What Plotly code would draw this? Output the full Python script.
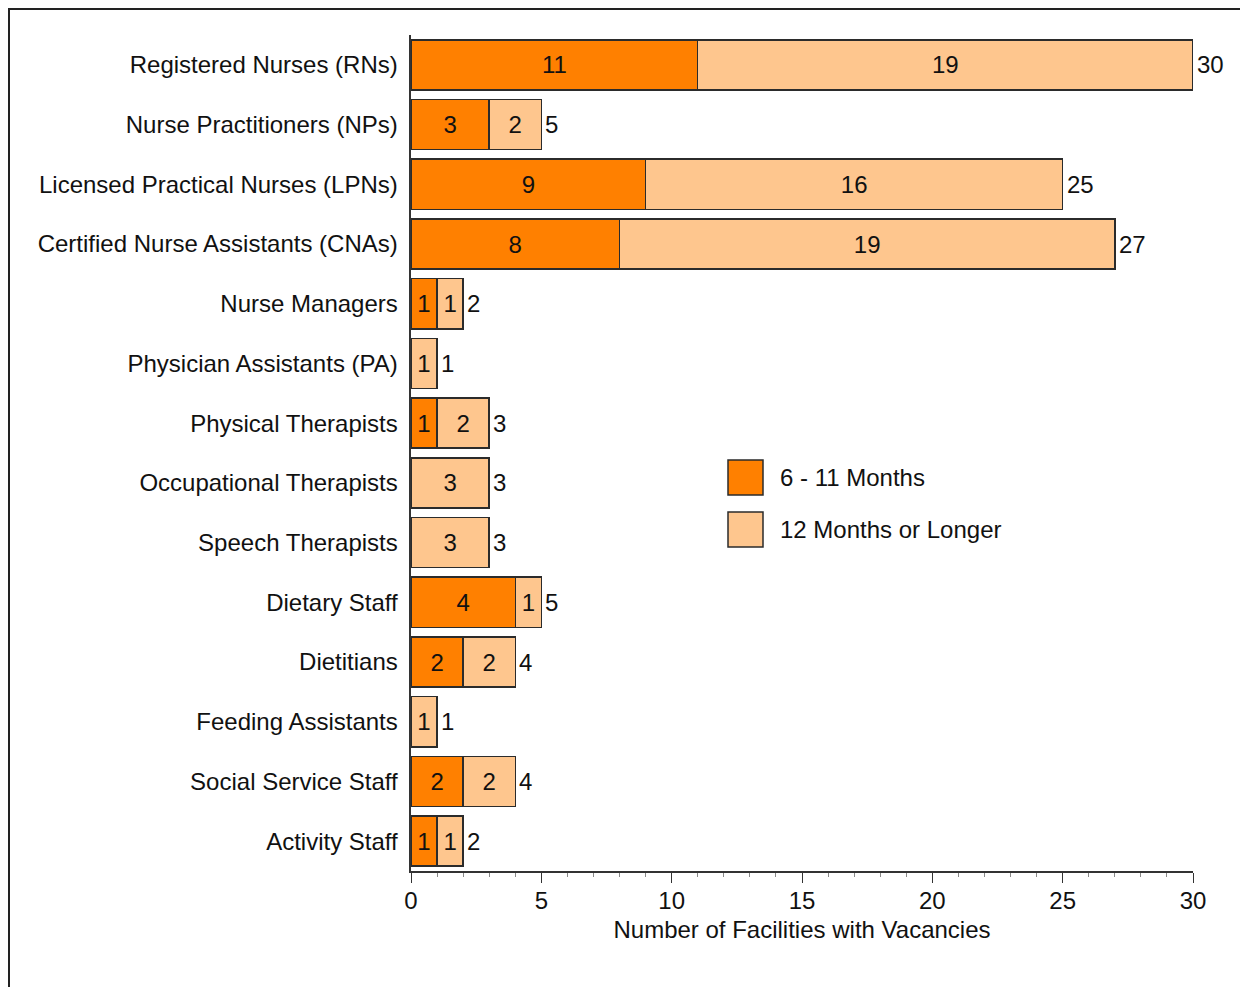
import plotly.graph_objects as go

# data
categories = [
    "Registered Nurses (RNs)", "Nurse Practitioners (NPs)", "Licensed Practical Nurses (LPNs)",
    "Certified Nurse Assistants (CNAs)", "Nurse Managers", "Physician Assistants (PA)",
    "Physical Therapists", "Occupational Therapists", "Speech Therapists", "Dietary Staff",
    "Dietitians", "Feeding Assistants", "Social Service Staff", "Activity Staff",
]
months_6_11 = [11, 3, 9, 8, 1, 0, 1, 0, 0, 4, 2, 0, 2, 1]
months_12_plus = [19, 2, 16, 19, 1, 1, 2, 3, 3, 1, 2, 1, 2, 1]
series_names = ["6 - 11 Months", "12 Months or Longer"]
x_ticks = [0, 5, 10, 15, 20, 25, 30]

totals = [a + b for a, b in zip(months_6_11, months_12_plus)]

# page has an 8px body margin, so figure is 8px smaller than the window
OFF = 8
W, H = 1248 - OFF, 987 - OFF
L, R, T, B = 411 - OFF, 55, 35 - OFF, 116
pw, ph = W - L - R, H - T - B

# page pixel -> paper coords
def px(x):
    return (x - OFF - L) / pw

def py(y):
    return 1 - (y - OFF - T) / ph

FONT = "Liberation Sans, Arial, sans-serif"
FS = 24
c1, c2 = "#ff8000", "#fec68e"

fig = go.Figure()
for vals, col, name in [(months_6_11, c1, series_names[0]), (months_12_plus, c2, series_names[1])]:
    fig.add_trace(go.Bar(
        y=categories, x=vals, orientation="h", name=name,
        marker=dict(color=col, line=dict(color="#2b2b2b", width=1.5)),
        text=[str(v) if v else "" for v in vals],
        textposition="inside", insidetextanchor="middle",
        textfont=dict(family=FONT, size=FS, color="#111"),
        showlegend=False,
    ))

# totals to the right of each bar
for cat, tot in zip(categories, totals):
    fig.add_annotation(x=tot, y=cat, text=str(tot), showarrow=False,
                       xanchor="left", yanchor="middle", xshift=2,
                       font=dict(family=FONT, size=FS, color="#111"))

fig.update_layout(
    width=W, height=H,
    margin=dict(l=L, r=R, t=T, b=B),
    paper_bgcolor="white", plot_bgcolor="white",
    barmode="stack", bargap=0.16,
    font=dict(family=FONT, size=FS, color="#111"),
    xaxis=dict(
        range=[0, 30], tickvals=x_ticks, showgrid=False, zeroline=False,
        showline=True, linecolor="#333", linewidth=1.5,
        ticks="outside", ticklen=10, tickcolor="#333", tickwidth=1,
        ticklabelstandoff=-3,
        minor=dict(dtick=1, ticks="outside", ticklen=4, tickcolor="#888"),
        title=dict(text="Number of Facilities with Vacancies", standoff=9,
                   font=dict(size=FS)),
        tickfont=dict(size=FS),
    ),
    yaxis=dict(
        range=[len(categories) - 0.5, -0.5], showgrid=False, zeroline=False,
        showline=True, linecolor="#333", linewidth=1.5, ticks="",
        ticksuffix=" ", tickfont=dict(size=FS),
    ),
)

# outer frame of the figure
fig.add_shape(type="rect", xref="paper", yref="paper",
              x0=px(OFF + 0.5), x1=px(1300), y0=py(1050), y1=py(OFF + 0.5),
              line=dict(color="#222", width=3), layer="above")

# legend with big swatches
for i, (col, name) in enumerate(zip([c1, c2], series_names)):
    y0 = 460 + 52 * i
    fig.add_shape(type="rect", xref="paper", yref="paper",
                  x0=px(728), x1=px(763), y0=py(y0 + 35), y1=py(y0),
                  fillcolor=col, line=dict(color="#2b2b2b", width=1.5))
    fig.add_annotation(xref="paper", yref="paper", x=px(778), y=py(y0 + 17),
                       text=name, showarrow=False, xanchor="left", yanchor="middle",
                       font=dict(size=FS, family=FONT, color="#111"))

fig.write_html("out.html")
